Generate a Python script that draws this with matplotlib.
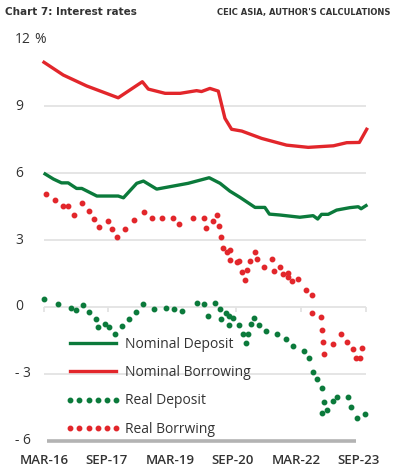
import matplotlib
matplotlib.use("Agg")
import matplotlib.pyplot as plt
from matplotlib.transforms import blended_transform_factory

# months since Mar 2016
nb_m = [0, 5.5, 12.2, 21.2, 28.1, 29.8, 34.6, 38.9, 43.6, 45, 47.4, 49.8, 51.7, 53.6,
        56.5, 62.2, 69.3, 75.5, 82.7, 86.5, 90.1, 92.2]
nb_v = [10.96, 10.39, 9.9, 9.37, 10.09, 9.76, 9.57, 9.57, 9.69, 9.65, 9.79, 9.67, 8.45, 7.96,
        7.88, 7.55, 7.25, 7.15, 7.22, 7.36, 7.37, 7.96]

nd_m = [0.3, 2.7, 5, 6.9, 9.3, 10.8, 15.1, 21.2, 22.7, 26.5, 28.4, 32.2, 41.2, 47.2, 50.3,
        53.1, 56, 60.3, 63.1, 64.4, 67.4, 73.1, 76.9, 78.2, 79.3, 81.2, 83.6, 87.4, 89.8,
        90.6, 92]
nd_v = [5.96, 5.73, 5.56, 5.56, 5.31, 5.31, 4.97, 4.97, 4.89, 5.54, 5.64, 5.28, 5.54, 5.79,
        5.54, 5.19, 4.91, 4.46, 4.46, 4.16, 4.12, 4.02, 4.09, 3.94, 4.15, 4.15, 4.34, 4.45,
        4.49, 4.4, 4.54]

rd_m = [0.1, 3.9, 7.6, 9.1, 11.1, 12.9, 14.9, 15.5, 17.4, 18.7, 20.3, 22.2, 24.2, 26.3,
        28.4, 31.5, 34.9, 37.1, 39.3, 43.6, 45.7, 46.8, 48.9, 50.3, 50.6, 52, 52.9, 52.9,
        54.1, 55.8, 56.8, 57.6, 58.4, 59.1, 60.1, 61.4, 63.3, 66.5, 69.1, 71.2, 74.4, 75.8,
        76.8, 78.1, 79.3, 80, 79.5, 81, 82.7, 83.8, 86.8, 87.6, 89.5, 91.7]
rd_v = [0.36, 0.13, -0.06, -0.13, 0.09, -0.22, -0.52, -0.88, -0.76, -0.88, -1.21, -0.85,
        -0.52, -0.21, 0.12, -0.09, -0.06, -0.09, -0.19, 0.17, 0.13, -0.42, 0.19, -0.1,
        -0.54, -0.28, -0.4, -0.81, -0.48, -0.81, -1.21, -1.63, -1.21, -0.76, -0.48, -0.81,
        -1.07, -1.21, -1.43, -1.75, -1.96, -2.27, -2.92, -3.24, -3.61, -4.24, -4.76, -4.61,
        -4.2, -4.04, -4.04, -4.49, -4.96, -4.79]

rb_m = [0.6, 3.1, 5.5, 6.8, 8.7, 10.8, 12.9, 14.3, 15.8, 18.4, 19.4, 20.8, 23.2, 25.8,
        28.5, 31, 33.8, 36.8, 38.7, 42.6, 45.7, 46.2, 48.4, 49.3, 49.9, 50.6, 51.2, 52.2,
        53.2, 53.2, 55.1, 55.7, 56.6, 57.4, 58, 58.8, 60.3, 60.9, 62.9, 65.1, 65.7, 67.3,
        68.4, 69.6, 69.7, 70.9, 72.5, 75, 76.6, 76.6, 79.1, 79.3, 79.6, 80, 82.5, 85, 86.6,
        88.3, 89.1, 90.4, 91]
rb_v = [5.06, 4.79, 4.54, 4.54, 4.13, 4.64, 4.31, 3.94, 3.57, 3.86, 3.49, 3.12, 3.51, 3.88,
        4.25, 3.97, 3.97, 3.97, 3.73, 3.97, 3.97, 3.52, 3.87, 4.11, 3.61, 3.12, 2.66, 2.45,
        2.55, 2.1, 2.0, 2.06, 1.57, 1.21, 1.64, 2.06, 2.46, 2.15, 1.79, 2.15, 1.63, 1.79,
        1.49, 1.54, 1.33, 1.15, 1.25, 0.78, 0.52, -0.25, -0.46, -1.03, -1.58, -2.12, -1.64,
        -1.2, -1.55, -1.9, -2.27, -2.27, -1.85]

x_ticks = [0, 18, 36, 54, 72, 90]
x_labels = ["MAR-16", "SEP-17", "MAR-19", "SEP-20", "MAR-22", "SEP-23"]
y_ticks = [12, 9, 6, 3, 0, -3, -6]
y_labels = ["12", "9", "6", "3", "0", "- 3", "- 6"]
grid_vals = [9, 6, 3, 0, -3]
zero_ticks = [0, 18.3, 55, 73.4, 92]

RED = "#e2262b"
GREEN = "#0b7a3b"
TXT = "#333333"

plt.rcParams["font.family"] = ["Open Sans", "DejaVu Sans"]

fig = plt.figure(figsize=(3.99, 4.74), dpi=100)
ax = fig.add_axes([37 / 399, 0.0462, 336 / 399, 0.8949])
ax.set_xlim(-2, 94)
ax.set_ylim(-6.5, 12.5)
ax.axis("off")

ax.hlines(grid_vals, 0, 92, color="#e3e3e3", lw=1.3, zorder=1)
ax.vlines(zero_ticks, -0.22, 0, color="#e3e3e3", lw=1.3, zorder=1)
ax.hlines(-6, 0.86, 89.1, color="#b3b3b3", lw=2.6, zorder=1)

ax.plot(nd_m, nd_v, color=GREEN, lw=2.4, solid_joinstyle="round", label="Nominal Deposit", zorder=3)
ax.plot(nb_m, nb_v, color=RED, lw=2.4, solid_joinstyle="round", label="Nominal Borrowing", zorder=3)
ax.plot(rd_m, rd_v, ls="none", marker="o", ms=3.2, color=GREEN, label="Real Deposit", zorder=3)
ax.plot(rb_m, rb_v, ls="none", marker="o", ms=3.2, color=RED, label="Real Borrwing", zorder=3)

tr_y = blended_transform_factory(fig.transFigure, ax.transData)
for v, s in zip(y_ticks, y_labels):
    ax.text(15 / 399, v, s, transform=tr_y, ha="left", va="center", fontsize=10, color=TXT)
ax.text(34 / 399, 12, "%", transform=tr_y, ha="left", va="center", fontsize=10, color=TXT)

tr_x = blended_transform_factory(ax.transData, fig.transFigure)
for m, s in zip(x_ticks, x_labels):
    ax.text(m, 14 / 474, s, transform=tr_x, ha="center", va="center", fontsize=9.5,
            color=TXT, fontweight="semibold")

leg = ax.legend(loc="upper left", bbox_to_anchor=(66 / 399, 1 - 337 / 474),
                bbox_transform=fig.transFigure, frameon=False, numpoints=6,
                handlelength=3.9, handletextpad=0.35, labelspacing=0.95,
                borderpad=0, borderaxespad=0, fontsize=10)
for t in leg.get_texts():
    t.set_color(TXT)

fig.text(5 / 399, 1 - 12 / 474, "Chart 7: Interest rates", ha="left", va="center",
         fontsize=7.5, fontweight="bold", color=TXT,
         family=["Liberation Sans Narrow", "DejaVu Sans"])
fig.text(390 / 399, 1 - 12 / 474, "CEIC ASIA, AUTHOR'S CALCULATIONS", ha="right",
         va="center", fontsize=6, fontweight="bold", color=TXT,
         family=["Liberation Sans Narrow", "DejaVu Sans"])

fig.savefig("out.png", dpi=100)
